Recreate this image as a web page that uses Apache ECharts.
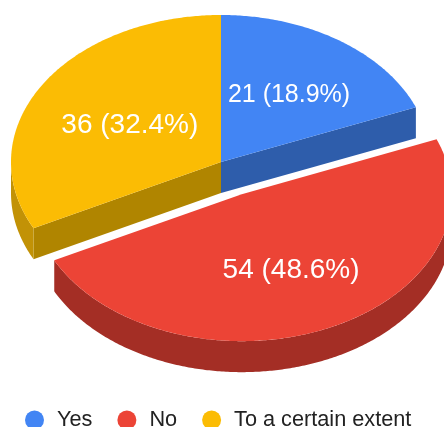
<!DOCTYPE html>
<html>
<head>
<meta charset="utf-8">
<style>html,body{margin:0;padding:0;background:#fff}#chart{width:444px;height:427px}</style>
<script src="https://cdn.jsdelivr.net/npm/echarts@6/dist/echarts.min.js"></script>
</head>
<body>
<div id="chart"></div>
<script>
// Survey answers
const categories = ['Yes', 'No', 'To a certain extent'];
const values = [21, 54, 36];
const explodedFlags = [false, true, false];

// Slice colours: top face, radial wall, outer rim
const topColors = ['#4285f4', '#ec4436', '#fbbc04'];
const wallColors = ['#2e5dab', '#a42e25', '#b08500'];
const rimColors = ['#2e5dab', '#a42e25', '#c29206'];
const labelRadii = [0.57, 0.57, 0.51];
const labelSizes = [25, 28, 28];
const labelNudges = [[1, 3], [0, 0], [0, 3]];

// Tilted pie geometry
const CX = 221, CY = 162, RX = 210, RY = 147, DEPTH = 31, EXPLODE = 0.24;

const total = values.reduce((a, b) => a + b, 0);
const shares = values.map(v => v / total);

// Angles run clockwise from twelve o'clock
function point(c, angle, depth) {
  return [c[0] + RX * Math.sin(angle), c[1] - RY * Math.cos(angle) + (depth || 0)];
}
function arcPoints(c, from, to, depth) {
  const steps = Math.max(2, Math.ceil(Math.abs(to - from) / 0.01));
  const pts = [];
  for (let i = 0; i <= steps; i++) pts.push(point(c, from + (to - from) * i / steps, depth));
  return pts;
}
function polygon(points, fill, z2) {
  return { type: 'polygon', z2: z2, shape: { points: points }, style: { fill: fill, stroke: null } };
}

function renderSlice(params, api) {
  const i = params.seriesIndex;
  const start = shares.slice(0, i).reduce((a, b) => a + b, 0) * 2 * Math.PI;
  const end = start + shares[i] * 2 * Math.PI;
  const mid = (start + end) / 2;
  const shift = explodedFlags[i] ? EXPLODE : 0;
  const c = [CX + shift * RX * Math.sin(mid), CY - shift * RY * Math.cos(mid)];
  const children = [];

  // A radial cut is visible when the slice body lies behind it
  const walls = [];
  if (Math.sin(start) < -1e-6) walls.push(start);
  if (Math.sin(end) > 1e-6) walls.push(end);
  walls.forEach(a => {
    const edge = point(c, a);
    children.push(polygon([c, edge, [edge[0], edge[1] + DEPTH], [c[0], c[1] + DEPTH]], wallColors[i], 1));
  });

  // Outer rim along the front half of the ellipse
  const rimFrom = Math.max(start, Math.PI / 2);
  const rimTo = Math.min(end, 3 * Math.PI / 2);
  if (rimTo > rimFrom) {
    const upper = arcPoints(c, rimFrom, rimTo, 0);
    const lower = arcPoints(c, rimTo, rimFrom, DEPTH);
    children.push(polygon(upper.concat(lower), rimColors[i], 2));
  }

  // Top face
  children.push(polygon([c].concat(arcPoints(c, start, end, 0)), topColors[i], 3));

  // Value label
  const value = api.value(0);
  const lr = labelRadii[i];
  children.push({
    type: 'text', z2: 4,
    style: {
      x: c[0] + lr * RX * Math.sin(mid) + labelNudges[i][0],
      y: c[1] - lr * RY * Math.cos(mid) + labelNudges[i][1],
      text: value + ' (' + (value / total * 100).toFixed(1) + '%)',
      fill: '#ffffff',
      font: labelSizes[i] + 'px "Liberation Sans", Arial, sans-serif',
      align: 'center',
      verticalAlign: 'middle'
    }
  });
  return { type: 'group', children: children };
}

const chart = echarts.init(document.getElementById('chart'), null, { renderer: 'canvas' });
chart.setOption({
  animation: false,
  backgroundColor: '#ffffff',
  legend: {
    left: 25,
    top: 409,
    padding: 0,
    icon: 'circle',
    itemWidth: 19,
    itemHeight: 19,
    itemGap: 25,
    selectedMode: false,
    textStyle: {
      color: '#222222',
      fontFamily: '"Liberation Sans", Arial, sans-serif',
      fontSize: 21.7,
      padding: [0, 0, 0, 8]
    },
    data: categories
  },
  series: categories.map((name, i) => ({
    type: 'custom',
    name: name,
    coordinateSystem: 'none',
    silent: true,
    clip: false,
    itemStyle: { color: topColors[i] },
    encode: { value: 0 },
    data: [[values[i]]],
    renderItem: renderSlice
  }))
});
</script>
</body>
</html>
